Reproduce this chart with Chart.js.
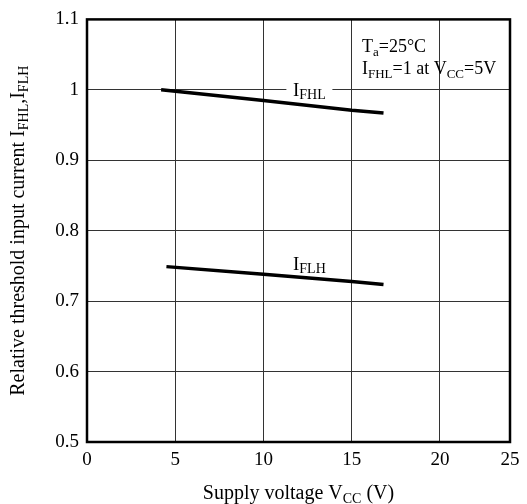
<!DOCTYPE html>
<html>
<head>
<meta charset="utf-8">
<script src="https://cdn.jsdelivr.net/npm/chart.js@4.4.0/dist/chart.umd.min.js"></script>
<style>
  body { margin: 0; background: #fff; }
  #wrap { width: 527px; height: 504px; position: relative; }
</style>
</head>
<body>
<div id="wrap"><canvas id="chart"></canvas></div>
<script>
'use strict';

// supply voltage (V) and relative threshold current
const vccFHL = [4.2, 10, 15, 16.8];
const iFHL = [1.0, 0.985, 0.971, 0.967];
const vccFLH = [4.5, 10, 15, 16.8];
const iFLH = [0.749, 0.738, 0.728, 0.7235];

const xTicks = [0, 5, 10, 15, 20, 25];
const yTicks = [0.5, 0.6, 0.7, 0.8, 0.9, 1.0, 1.1];

const SERIF = '"Liberation Serif", "DejaVu Serif", serif';

// the original graph paper squeezes the last 20..25 V column
const BEND = 0.8345;
class BentScale extends Chart.LinearScale {
    getPixelForValue(value) {
        if (value === null || value === undefined) return NaN;
        let d = value <= 20 ? value / 20 * BEND : BEND + (value - 20) / 5 * (1 - BEND);
        return this.getPixelForDecimal(d);
    }
}
BentScale.id = 'bent';
BentScale.defaults = Chart.LinearScale.defaults;
Chart.register(BentScale);

function toPoints(xs, ys) {
    return xs.map((x, i) => ({x: x, y: ys[i]}));
}

// draw text pieces, some as subscripts
function drawParts(ctx, x, y, parts, size, align) {
    let subSize = Math.round(size * 0.72);
    let total = 0;
    parts.forEach(p => {
        ctx.font = (p[1] ? subSize : size) + 'px ' + SERIF;
        total += ctx.measureText(p[0]).width;
    });
    let cx = x;
    if (align === 'center') cx = x - total / 2;
    ctx.textAlign = 'left';
    ctx.textBaseline = 'alphabetic';
    parts.forEach(p => {
        ctx.font = (p[1] ? subSize : size) + 'px ' + SERIF;
        ctx.fillText(p[0], cx, p[1] ? y + size * 0.18 : y);
        cx += ctx.measureText(p[0]).width;
    });
    return total;
}

const decor = {
    id: 'decor',
    afterDatasetsDraw(chart) {
        let ctx = chart.ctx;
        let a = chart.chartArea;
        let xs = chart.scales.x, ys = chart.scales.y;
        ctx.save();
        ctx.fillStyle = '#000';

        // frame
        ctx.strokeStyle = '#000';
        ctx.lineWidth = 2.5;
        ctx.strokeRect(a.left, a.top, a.right - a.left, a.bottom - a.top);

        // curve labels
        let px = xs.getPixelForValue(12.6);
        let py = ys.getPixelForValue(1.0);
        ctx.fillStyle = '#fff';
        ctx.fillRect(px - 23, py - 3, 46, 6);
        ctx.fillStyle = '#000';
        drawParts(ctx, px, py + 6, [['I'], ['FHL', 1]], 19, 'center');
        px = xs.getPixelForValue(12.6);
        py = ys.getPixelForValue(0.753);
        drawParts(ctx, px, py + 6, [['I'], ['FLH', 1]], 19, 'center');

        // conditions
        let tx = a.right - 148;
        drawParts(ctx, tx, a.top + 33, [['T'], ['a', 1], ['=25°C']], 18, 'left');
        drawParts(ctx, tx, a.top + 55, [['I'], ['FHL', 1], ['=1 at V'], ['CC', 1], ['=5V']], 18, 'left');

        // x title
        drawParts(ctx, (a.left + a.right) / 2, 499, [['Supply voltage V'], ['CC', 1], [' (V)']], 20, 'center');

        // y title
        ctx.translate(24, (a.top + a.bottom) / 2);
        ctx.rotate(-Math.PI / 2);
        drawParts(ctx, 0, 0, [['Relative threshold input current I'], ['FHL', 1], [',I'], ['FLH', 1]], 20, 'center');
        ctx.restore();
    }
};

let chart = new Chart(document.getElementById('chart'), {
    type: 'scatter',
    data: {
        datasets: [{
            label: 'IFHL',
            data: toPoints(vccFHL, iFHL),
            showLine: true,
            borderColor: '#000',
            borderWidth: 3.5,
            pointRadius: 0,
            tension: 0
        }, {
            label: 'IFLH',
            data: toPoints(vccFLH, iFLH),
            showLine: true,
            borderColor: '#000',
            borderWidth: 3.5,
            pointRadius: 0,
            tension: 0
        }]
    },
    options: {
        responsive: true,
        maintainAspectRatio: false,
        animation: false,
        events: [],
        layout: {padding: {left: 0, right: 17, top: 16, bottom: 0}},
        plugins: {legend: {display: false}, tooltip: {enabled: false}},
        scales: {
            x: {
                type: 'bent',
                min: 0,
                max: 25,
                afterBuildTicks: s => { s.ticks = xTicks.map(v => ({value: v})); },
                afterFit: s => { s.height = 62; },
                grid: {color: '#333', lineWidth: 1, drawTicks: false},
                border: {display: false},
                ticks: {color: '#000', padding: 7, maxRotation: 0, font: {family: SERIF, size: 19}}
            },
            y: {
                min: 0.5,
                max: 1.1,
                afterBuildTicks: s => { s.ticks = yTicks.map(v => ({value: v})); },
                afterFit: s => { s.width = 87; },
                grid: {color: '#333', lineWidth: 1, drawTicks: false},
                border: {display: false},
                ticks: {
                    color: '#000',
                    padding: 8,
                    font: {family: SERIF, size: 19},
                    callback: v => (Math.round(v * 10) / 10).toString()
                }
            }
        }
    },
    plugins: [decor]
});
</script>
</body>
</html>
